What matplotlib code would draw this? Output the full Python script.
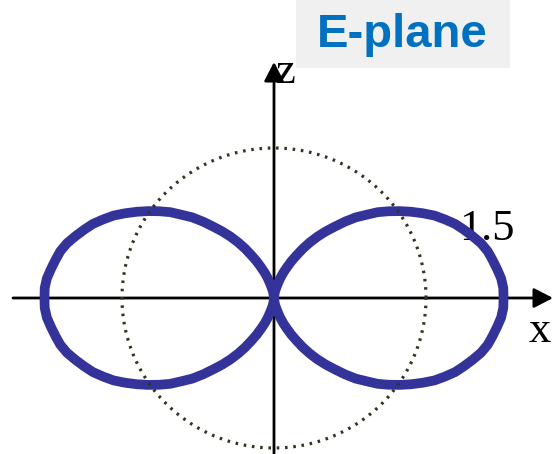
import numpy as np
import matplotlib
matplotlib.use("Agg")
import matplotlib.pyplot as plt
from matplotlib.patches import Rectangle

# ---- data ----
# radiation pattern radius (relative to the dotted unit circle) vs angle from the x-axis (deg)
angle_deg = [0, 2.5, 5, 7.5, 10, 12.5, 15, 17.5, 20, 22.5, 25, 27.5, 30, 32.5,
             35, 37.5, 40, 42.5, 45, 47.5, 50, 52.5, 55, 57.5, 60, 62.5, 65,
             67.5, 70, 72.5, 75, 77.5, 80, 82.5, 85, 87.5, 90]
radius = [1.51, 1.51, 1.50, 1.48, 1.46, 1.44, 1.41, 1.37, 1.33, 1.29, 1.24,
          1.19, 1.13, 1.07, 1.01, 0.95, 0.89, 0.82, 0.76, 0.69, 0.62, 0.56,
          0.50, 0.44, 0.38, 0.32, 0.27, 0.22, 0.18, 0.14, 0.10, 0.07, 0.05,
          0.03, 0.01, 0.003, 0.00]
ref_radius = 1.0
title_text = "E-plane"
axis_labels = ["x", "z"]
level_label = "1.5"

W, H = 558, 454
fig = plt.figure(figsize=(W / 100, H / 100), dpi=100)
ax = fig.add_axes([0, 0, 1, 1])
ax.set_axis_off()

# pixel geometry of the drawing
cx, cy = 274, 298          # origin in pixels (from top-left)
sx, sy = 152, 150          # pixels per unit
ax.set_xlim(-cx / sx, (W - cx) / sx)
ax.set_ylim(-(H - cy) / sy, cy / sy)

def px(xp, yp):
    return ((xp - cx) / sx, (cy - yp) / sy)

# ---- build the figure-eight from one quadrant by symmetry ----
a = np.deg2rad(np.array(angle_deg, dtype=float))
r = np.array(radius, dtype=float)
# right lobe: 90 -> 0 -> -90
phi_r = np.concatenate([a[::-1], -a[1:]])
r_r = np.concatenate([r[::-1], r[1:]])
# left lobe: mirror about z axis
phi_l = np.pi - phi_r
for phi, rr in [(phi_r, r_r), (phi_l, r_r)]:
    ax.plot(rr * np.cos(phi), rr * np.sin(phi), color="#333399", lw=7,
            solid_capstyle="round", solid_joinstyle="round", zorder=3)

# dotted reference circle
t = np.linspace(0, 2 * np.pi, 400)
ax.plot(ref_radius * np.cos(t), ref_radius * np.sin(t), color="#33331f",
        lw=2.3, linestyle=(0, (0.8, 1.8)), zorder=4)

# axes with arrows
arrow = dict(arrowstyle="-|>,head_length=0.58,head_width=0.3", lw=2.0,
             color="black", mutation_scale=20, shrinkA=0, shrinkB=0)
ax.annotate("", xy=px(553, 298), xytext=px(13, 298), arrowprops=arrow, zorder=2)
ax.annotate("", xy=px(274, 62), xytext=px(274, 460), arrowprops=arrow, zorder=2)

serif = "Liberation Serif"
ax.text(*px(540, 342), axis_labels[0], family=serif, fontsize=32,
        ha="center", va="baseline", zorder=1)
ax.text(*px(286, 83), axis_labels[1], family=serif, fontsize=32,
        ha="center", va="baseline", zorder=1)
ax.text(*px(487, 240), level_label, family=serif, fontsize=32,
        ha="center", va="baseline", zorder=1)

# title box
x0, y0 = px(296, 68)
x1, y1 = px(510, 0)
ax.add_patch(Rectangle((x0, y0), x1 - x0, y1 - y0, facecolor="#f0f0f0",
                       edgecolor="none", zorder=1))
ax.text(*px(402.5, 47), title_text, family="Liberation Sans", fontweight="bold",
        fontsize=34, color="#0070c0", ha="center", va="baseline", zorder=5)

fig.savefig("out.png", dpi=100)
